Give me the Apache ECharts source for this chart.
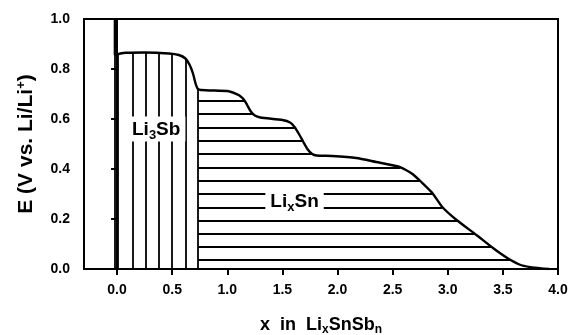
<!DOCTYPE html>
<html>
<head>
<meta charset="utf-8">
<script src="https://cdn.jsdelivr.net/npm/echarts@6/dist/echarts.min.js"></script>
<style>html,body{margin:0;padding:0;background:#fff}#c{width:571px;height:335px}</style>
</head>
<body>
<div id="c"></div>
<script>
// ---- data ----
const curveX = [-0.02, -0.02, 0.03, 0.08, 0.25, 0.47, 0.56, 0.62, 0.66, 0.69, 0.71, 0.73, 0.76, 1.0, 1.05, 1.11, 1.15, 1.18, 1.21, 1.25, 1.3, 1.5, 1.57, 1.61, 1.65, 1.69, 1.73, 1.77, 1.81, 1.95, 2.17, 2.35, 2.55, 2.62, 2.68, 2.76, 2.86, 2.95, 3.08, 3.26, 3.41, 3.54, 3.65, 3.75, 3.85, 3.92];
const curveE = [1.0, 0.856, 0.862, 0.865, 0.866, 0.862, 0.856, 0.842, 0.815, 0.78, 0.745, 0.722, 0.716, 0.712, 0.706, 0.694, 0.678, 0.656, 0.632, 0.614, 0.606, 0.596, 0.586, 0.568, 0.54, 0.508, 0.478, 0.46, 0.454, 0.452, 0.444, 0.428, 0.41, 0.396, 0.38, 0.348, 0.304, 0.248, 0.196, 0.136, 0.084, 0.044, 0.018, 0.007, 0.002, 0.0];
const phaseBoundaryX = 0.735;               // Li3Sb | LixSn boundary
const vHatchX = [-0.02, 0.01, 0.14, 0.264, 0.382, 0.50, 0.623, 0.735]; // vertical hatch (Li3Sb)
const hHatchE = [0.672, 0.62, 0.567, 0.513, 0.46, 0.406, 0.354, 0.30, 0.247, 0.194, 0.142, 0.089, 0.036]; // horizontal hatch (LixSn)
const xTickValues = [0, 0.5, 1.0, 1.5, 2.0, 2.5, 3.0, 3.5, 4.0];
const li3sbPos = [0.355, 0.56];
const lixsnPos = [1.61, 0.272];

// ---- helpers derived from the curve ----
function eAt(x) {
  for (let i = 0; i < curveX.length - 1; i++) {
    const x0 = curveX[i], x1 = curveX[i + 1];
    if (x1 > x0 && x >= x0 && x <= x1) {
      return curveE[i] + (curveE[i + 1] - curveE[i]) * (x - x0) / (x1 - x0);
    }
  }
  return 0;
}
function xAt(e) {
  for (let i = 0; i < curveX.length - 1; i++) {
    if (curveX[i] < phaseBoundaryX) continue;
    const e0 = curveE[i], e1 = curveE[i + 1];
    if (e0 >= e && e >= e1 && e0 !== e1) {
      return curveX[i] + (curveX[i + 1] - curveX[i]) * (e0 - e) / (e0 - e1);
    }
  }
  return phaseBoundaryX;
}

const vLines = vHatchX.map(x => [{ coord: [x, 0] }, { coord: [x, eAt(x)] }]);
const hLines = hHatchE.map(e => [{ coord: [phaseBoundaryX, e] }, { coord: [xAt(e), e] }]);
const curve = curveX.map((x, i) => [x, curveE[i]]);

const FONT = 'Liberation Sans, Arial, Helvetica, sans-serif';
const chart = echarts.init(document.getElementById('c'));
const txt = { color: '#000', textBorderWidth: 0, fontFamily: FONT, fontWeight: 'bold' };
const lblRich = {
  m: Object.assign({ fontSize: 19 }, txt),
  s: Object.assign({ fontSize: 13, padding: [10, 0, 0, 0] }, txt)
};
chart.setOption({
  animation: false,
  grid: { left: 84, right: 13, top: 19, bottom: 66, show: true, borderColor: '#000', borderWidth: 2,
    containLabel: false, outerBoundsMode: 'none' },
  xAxis: {
    type: 'value', min: -0.3, max: 4.0,
    splitLine: { show: false },
    axisLine: { lineStyle: { color: '#000', width: 2 } },
    axisTick: { length: 6, lineStyle: { color: '#000', width: 2 }, customValues: xTickValues },
    axisLabel: { customValues: xTickValues, margin: 14, color: '#000', fontSize: 14, fontWeight: 'bold', fontFamily: FONT,
      formatter: v => v.toFixed(1) },
    name: '{m|x  in  Li}{s|x}{m|SnSb}{s|n}',
    nameLocation: 'middle', nameGap: 46,
    nameTextStyle: { rich: {
      m: Object.assign({ fontSize: 18 }, txt),
      s: Object.assign({ fontSize: 12, padding: [9, 0, 0, 0] }, txt) } }
  },
  yAxis: {
    type: 'value', min: 0, max: 1.0, interval: 0.2,
    splitLine: { show: false },
    axisLine: { lineStyle: { color: '#000', width: 2 } },
    axisTick: { length: 6, lineStyle: { color: '#000', width: 2 } },
    axisLabel: { margin: 14, color: '#000', fontSize: 14, fontWeight: 'bold', fontFamily: FONT, formatter: v => v.toFixed(1) },
    name: '{m|E (V vs. Li/Li}{p|+}{m|)}',
    nameLocation: 'middle', nameGap: 46,
    nameTextStyle: { rich: {
      m: Object.assign({ fontSize: 21 }, txt),
      p: Object.assign({ fontSize: 13, padding: [0, 0, 10, 0] }, txt) } }
  },
  series: [
    {
      type: 'line', data: curve, showSymbol: false, symbol: 'none', smooth: 0.2,
      lineStyle: { color: '#000', width: 2.4 }, z: 5,
      markLine: { silent: true, symbol: 'none', label: { show: false },
        lineStyle: { color: '#000', width: 1.8, type: 'solid' }, data: vLines.concat(hLines), animation: false }
    },
    {
      type: 'scatter', symbolSize: 0, z: 10, silent: true,
      itemStyle: { opacity: 1 },
      data: [
        { value: li3sbPos, label: { formatter: '{m|Li}{s|3}{m|Sb}' } },
        { value: lixsnPos, label: { formatter: '{m|Li}{s|x}{m|Sn}' } }
      ],
      label: { show: true, position: 'inside', color: '#000', opacity: 1, textBorderWidth: 0,
        backgroundColor: '#fff', padding: [2, 5, 0, 5], rich: lblRich }
    }
  ]
});
</script>
</body>
</html>
